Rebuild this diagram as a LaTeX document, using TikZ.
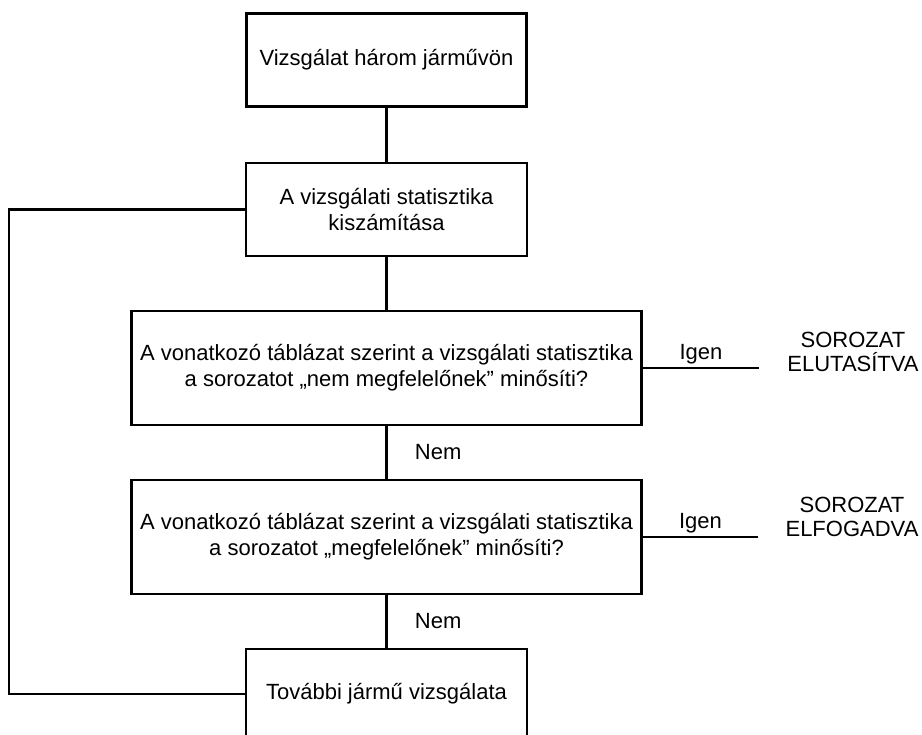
\documentclass[tikz,border=0pt]{standalone}
\usepackage{fontspec}
\setmainfont{Liberation Sans}
\usepackage{tikz}
\usetikzlibrary{positioning,calc}
\tikzset{
  stepbox/.style={draw=black,line width=2.9pt,align=center,inner sep=4pt,
                  font=\fontsize{22}{26}\selectfont},
  tag/.style={inner sep=0pt,font=\fontsize{22}{24}\selectfont},
  flow/.style={black,line width=2.9pt},
}
\begin{document}
\begin{tikzpicture}[x=1pt,y=-1pt]
  % page frame: 922 x 735 (pixel units)
  \useasboundingbox (0,0) rectangle (922,735);

  % Boxes
  \node[stepbox,minimum width=280pt,minimum height=93pt] (start)
    at (386.5,60) {Vizsg\'alat h\'arom j\'arm\H{u}v\"on};
  \node[stepbox,minimum width=281pt,minimum height=93pt] (calc)
    at (386.5,209.5) {A vizsg\'alati statisztika\\kisz\'am\'it\'asa};
  \node[stepbox,minimum width=510pt,minimum height=114pt] (reject)
    at (386.5,368) {A vonatkoz\'o t\'abl\'azat szerint a vizsg\'alati statisztika\\
                  a sorozatot \quotedblbase nem megfelel\H{o}nek\textquotedblright{} min\H{o}s\'iti?};
  \node[stepbox,minimum width=510pt,minimum height=114pt] (accept)
    at (386.5,537) {A vonatkoz\'o t\'abl\'azat szerint a vizsg\'alati statisztika\\
                  a sorozatot \quotedblbase megfelel\H{o}nek\textquotedblright{} min\H{o}s\'iti?};
  \node[stepbox,minimum width=281pt,minimum height=90pt] (more)
    at (386.5,694) {Tov\'abbi j\'arm\H{u} vizsg\'alata};

  % Outcomes
  \node[tag,align=center] (rejtxt) at (853,352) {SOROZAT\\ELUTAS\'ITVA};
  \node[tag,align=center] (acctxt) at (852,517) {SOROZAT\\ELFOGADVA};
  \coordinate (rejend) at (759,368);
  \coordinate (accend) at (758,537);
  \coordinate (loopx) at (9,0);

  % Connectors
  \draw[flow] (start.south) -- (calc.north);
  \draw[flow] (calc.south) -- (reject.north);
  \draw[flow] (reject.south) -- (accept.north)
    node[tag,midway,right,xshift=27pt] (nem1) {Nem};
  \draw[flow] (accept.south) -- (more.north)
    node[tag,midway,right,xshift=27pt] (nem2) {Nem};
  \draw[flow] (reject.east) -- (rejend)
    node[tag,midway,above=2pt] (igen1) {Igen};
  \draw[flow] (accept.east) -- (accend)
    node[tag,midway,above=2pt] (igen2) {Igen};

  % Loop back
  \draw[flow] (more.west) -- (more.west -| loopx) |- (calc.west);
\end{tikzpicture}
\end{document}
